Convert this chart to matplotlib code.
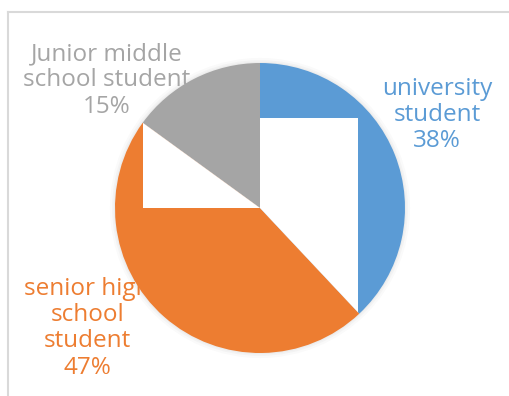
import matplotlib.pyplot as plt
from matplotlib.patches import Rectangle, Circle
from matplotlib.lines import Line2D

# data
labels = ["university\nstudent", "senior high\nschool\nstudent", "Junior middle\nschool student"]
shares = [38, 47, 15]
colors = ["#5B9BD5", "#ED7D31", "#A5A5A5"]

# label positions (pie radius = 1)
label_pos = [(1.22, 0.64), (-1.19, -0.83), (-1.055, 0.88)]

W, H = 509, 396
cx, cy, r = 260, 208, 145  # pie centre and radius in pixels

fig = plt.figure(figsize=(W / 100, H / 100), dpi=100)
ax = fig.add_axes([0, 0, 1, 1])
ax.axis("off")

# soft shadow around the pie
for k, a in [(1.035, 0.04), (1.02, 0.05), (1.008, 0.06)]:
    ax.add_patch(Circle((0, 0), k, color="#808080", alpha=a, lw=0, zorder=1))

#labels sit below the pie, so the wedges clip them
for lab, s, c, (x, y) in zip(labels, shares, colors, label_pos):
    ax.text(x, y, "%s\n%d%%" % (lab, s), color=c, fontsize=17.5, family="Open Sans",
            ha="center", va="center", linespacing=1.12, zorder=2)

wedges, _ = ax.pie(shares, colors=colors, startangle=90, counterclock=False, radius=1,
                   wedgeprops=dict(linewidth=0))
for w in wedges:
    w.set_zorder(3)

# white blocks over the pie as in the source image, each only over one wedge
blk1 = Rectangle((0, -0.8), 0.676, 1.421, color="white", lw=0, zorder=4)
blk2 = Rectangle((-0.807, 0), 0.807, 0.607, color="white", lw=0, zorder=4)
ax.add_patch(blk1)
ax.add_patch(blk2)
blk1.set_clip_path(wedges[0])
blk2.set_clip_path(wedges[1])

ax.set_xlim(-cx / r, (W - cx) / r)
ax.set_ylim(-(H - cy) / r, cy / r)

# chart border (top and left edges visible)
fig.add_artist(Line2D([8 / W, 8 / W], [0, 1 - 12 / H], color="#D9D9D9", lw=1.5))
fig.add_artist(Line2D([8 / W, 1], [1 - 12 / H, 1 - 12 / H], color="#D9D9D9", lw=1.5))

plt.savefig("out.png", dpi=100)
